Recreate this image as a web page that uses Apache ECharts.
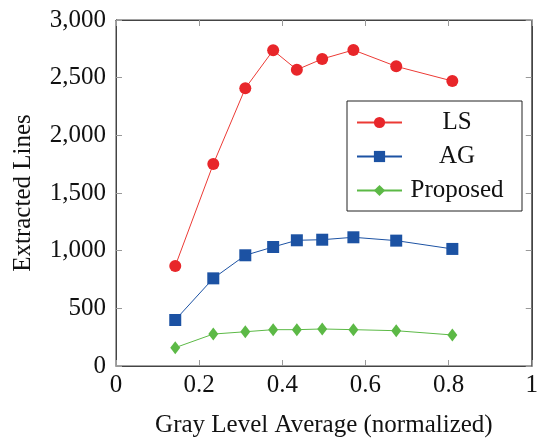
<!DOCTYPE html>
<html>
<head>
<meta charset="utf-8">
<script src="https://cdn.jsdelivr.net/npm/echarts@6/dist/echarts.min.js"></script>
<style>
  html, body { margin: 0; padding: 0; background: #fff; }
  #chart { width: 541px; height: 445px; }
</style>
</head>
<body>
<div id="chart"></div>
<script>
// gray level average (normalized)
const grayLevel = [0.1425, 0.234, 0.311, 0.378, 0.435, 0.496, 0.571, 0.674, 0.809]
const lsLines = [867, 1751, 2408, 2737, 2569, 2662, 2740, 2598, 2471]
const agLines = [399, 760, 960, 1032, 1090, 1095, 1116, 1087, 1015]
const proposedLines = [159, 277, 297, 315, 315, 321, 315, 306, 269]

const font = '"Liberation Serif", "DejaVu Serif", serif'
const fontSize = 25

const toPairs = (ys) => ys.map((y, i) => [grayLevel[i], y])

const frameLine = { show: true, onZero: false, lineStyle: { color: '#444', width: 1 } }
const innerTick = { show: true, inside: true, length: 6, lineStyle: { color: '#999', width: 1 } }

const myChart = echarts.init(document.getElementById('chart'))
myChart.setOption({
  animation: false,
  textStyle: { fontFamily: font },
  // grid border gives the closed box
  grid: { left: 116, right: 4, top: 20, bottom: 79, show: true, borderColor: '#444', borderWidth: 1 },
  legend: {
    left: 347,
    top: 101,
    orient: 'vertical',
    backgroundColor: '#fff',
    borderColor: '#222',
    borderWidth: 1,
    padding: [9, 15, 8, 9],
    itemWidth: 45,
    itemHeight: 14,
    itemGap: 9,
    itemTextGap: 5,
    formatter: (name) => '{c|' + name + '}',
    textStyle: {
      fontFamily: font, fontSize: fontSize, color: '#111',
      rich: { c: { fontFamily: font, fontSize: fontSize, color: '#111', width: 100, align: 'center', lineHeight: 25 } }
    },
    data: ['LS', 'AG', 'Proposed']
  },
  xAxis: [
    {
      type: 'value', min: 0, max: 1, interval: 0.2,
      name: 'Gray Level Average (normalized)',
      nameLocation: 'middle', nameGap: 47,
      nameTextStyle: { fontFamily: font, fontSize: fontSize, color: '#111' },
      axisLine: frameLine, axisTick: innerTick, splitLine: { show: false },
      axisLabel: { fontFamily: font, fontSize: fontSize, color: '#111', margin: 7 }
    },
    {
      type: 'value', min: 0, max: 1, interval: 0.2, position: 'top',
      axisLine: frameLine, axisTick: innerTick, splitLine: { show: false },
      axisLabel: { show: false }
    }
  ],
  yAxis: [
    {
      type: 'value', min: 0, max: 3000, interval: 500,
      name: 'Extracted Lines',
      nameLocation: 'middle', nameGap: 80,
      nameTextStyle: { fontFamily: font, fontSize: fontSize, color: '#111' },
      axisLine: frameLine, axisTick: innerTick, splitLine: { show: false },
      axisLabel: {
        fontFamily: font, fontSize: fontSize, color: '#111', margin: 10,
        formatter: (v) => v.toLocaleString('en-US')
      }
    },
    {
      type: 'value', min: 0, max: 3000, interval: 500, position: 'right',
      axisLine: frameLine, axisTick: innerTick, splitLine: { show: false },
      axisLabel: { show: false }
    }
  ],
  series: [
    {
      name: 'LS', type: 'line', data: toPairs(lsLines),
      symbol: 'circle', symbolSize: 12,
      itemStyle: { color: '#e8262a' },
      lineStyle: { color: '#ec3a35', width: 1 }
    },
    {
      name: 'AG', type: 'line', data: toPairs(agLines),
      symbol: 'rect', symbolSize: 12,
      itemStyle: { color: '#1c52a3' },
      lineStyle: { color: '#1c52a3', width: 1 }
    },
    {
      name: 'Proposed', type: 'line', data: toPairs(proposedLines),
      symbol: 'diamond', symbolSize: [10, 13],
      itemStyle: { color: '#5cb946' },
      lineStyle: { color: '#5cb946', width: 1 }
    },
    {
      // empty series so the mirrored top/right axes get drawn
      name: 'frame', type: 'line', data: [], xAxisIndex: 1, yAxisIndex: 1
    }
  ]
})
window.addEventListener('resize', () => {
  myChart.resize()
})
</script>
</body>
</html>
